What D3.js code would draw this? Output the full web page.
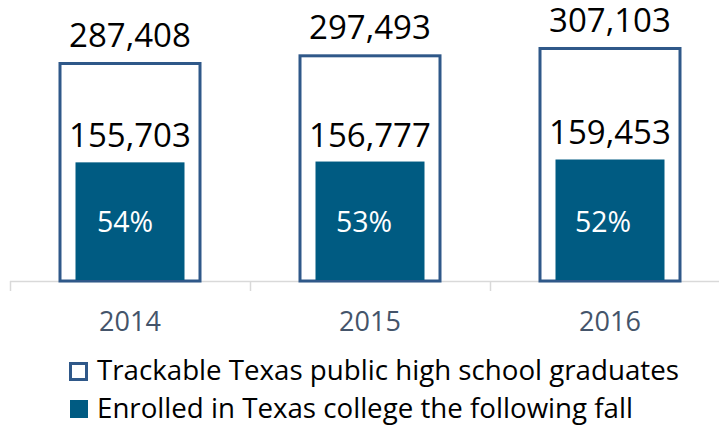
<!DOCTYPE html>
<html><head><meta charset="utf-8">
<script src="https://cdn.jsdelivr.net/npm/d3@7"></script>
<style>body{margin:0;background:#fff}svg{display:block}text{font-family:"Open Sans",sans-serif}</style>
</head><body><svg id="c" width="719" height="426"></svg>
<script>
const years = ["2014","2015","2016"];
const trackable = [287408, 297493, 307103];
const enrolled = [155703, 156777, 159453];
const percents = ["54%","53%","52%"];
const legendLabels = ["Trackable Texas public high school graduates","Enrolled in Texas college the following fall"];

const svg = d3.select("#c");
const baseY = 281;
const x = d3.scaleBand().domain(years).range([10, 730]).paddingInner(0).paddingOuter(0);
const y = d3.scaleLinear().domain([0, 350000]).range([baseY, baseY - 350000*219/287408]);
const outlineColor = "#2f5889", fillColor = "#005b82";
const cx = d => x(d) + x.bandwidth()/2;

// axis line and ticks
svg.append("line").attr("x1",10).attr("x2",719).attr("y1",baseY+0.5).attr("y2",baseY+0.5)
  .attr("stroke","#d9d9d9").attr("stroke-width",1.5);
svg.selectAll("line.tick").data(years).join("line").attr("class","tick")
  .attr("x1",d=>x(d)+0.5).attr("x2",d=>x(d)+0.5).attr("y1",baseY).attr("y2",baseY+10)
  .attr("stroke","#d9d9d9").attr("stroke-width",1.5);

const data = years.map((yr,i)=>({yr, t:trackable[i], e:enrolled[i], p:percents[i]}));

svg.selectAll("rect.out").data(data).join("rect").attr("class","out")
  .attr("x",d=>cx(d.yr)-70).attr("width",140)
  .attr("y",d=>y(d.t)+1.5).attr("height",d=>baseY - y(d.t)-1.5)
  .attr("fill","#fff").attr("stroke",outlineColor).attr("stroke-width",3);

svg.selectAll("rect.in").data(data).join("rect").attr("class","in")
  .attr("x",d=>cx(d.yr)-54.5).attr("width",109)
  .attr("y",d=>y(d.e)).attr("height",d=>baseY - y(d.e)-1)
  .attr("fill",fillColor);

const fmt = d3.format(",");
svg.selectAll("text.tl").data(data).join("text").attr("class","tl")
  .attr("x",d=>cx(d.yr)).attr("y",d=>y(d.t)-15).attr("text-anchor","middle")
  .attr("font-size",33).attr("fill","#000").text(d=>fmt(d.t));
svg.selectAll("text.el").data(data).join("text").attr("class","el")
  .attr("x",d=>cx(d.yr)).attr("y",d=>y(d.e)-15).attr("text-anchor","middle")
  .attr("font-size",33).attr("fill","#000").text(d=>fmt(d.e));
svg.selectAll("text.pl").data(data).join("text").attr("class","pl")
  .attr("x",(d,i)=>cx(d.yr)-5-i).attr("y",232).attr("text-anchor","middle")
  .attr("font-size",28.5).attr("fill","#fff").text(d=>d.p);
svg.selectAll("text.yl").data(data).join("text").attr("class","yl")
  .attr("x",d=>cx(d.yr)).attr("y",331).attr("text-anchor","middle")
  .attr("font-size",27).attr("fill","#44546a").text(d=>d.yr);

// legend
const lg = svg.append("g");
lg.append("rect").attr("x",70.5).attr("y",363.5).attr("width",16).attr("height",16)
  .attr("fill","#fff").attr("stroke",outlineColor).attr("stroke-width",3);
lg.append("rect").attr("x",70).attr("y",400).attr("width",18).attr("height",18).attr("fill",fillColor);
lg.selectAll("text").data(legendLabels).join("text")
  .attr("x",97).attr("y",(d,i)=>380+i*38).attr("font-size",27.7).attr("fill","#000").text(d=>d);
</script></body></html>
